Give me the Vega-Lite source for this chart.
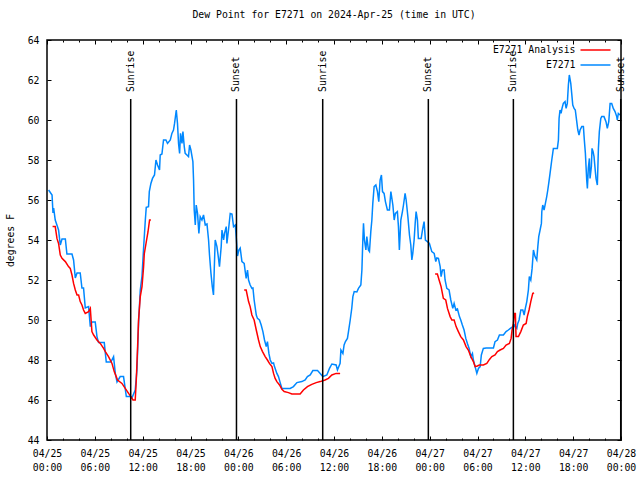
{
  "$schema": "https://vega.github.io/schema/vega-lite/v6.json",
  "width": 574,
  "height": 400,
  "autosize": {"type": "none"},
  "padding": {"left": 47, "top": 40, "right": 19, "bottom": 40},
  "background": "white",
  "title": {"text": "Dew Point for E7271 on 2024-Apr-25 (time in UTC)", "font": "DejaVu Sans Mono", "fontSize": 9.8, "fontWeight": "normal", "color": "black", "offset": 15, "anchor": "middle"},
  "config": {
    "view": {"stroke": "black", "strokeWidth": 1.5},
    "axis": {"labelFont": "DejaVu Sans Mono", "labelFontSize": 9.8, "labelColor": "black", "tickColor": "black", "tickWidth": 1, "domain": false, "grid": false, "titleFont": "DejaVu Sans Mono", "titleFontSize": 9.8, "titleFontWeight": "normal", "titleColor": "black"}
  },
  "datasets": {
    "sun": [
      {"event": "Sunrise", "time": "2024-04-25T10:30:00Z"},
      {"event": "Sunset", "time": "2024-04-25T23:46:00Z"},
      {"event": "Sunrise", "time": "2024-04-26T10:35:00Z"},
      {"event": "Sunset", "time": "2024-04-26T23:50:00Z"},
      {"event": "Sunrise", "time": "2024-04-27T10:30:00Z"},
      {"event": "Sunset", "time": "2024-04-27T23:58:00Z"}
    ],
    "obs": [
      {"series":"E7271","time":"2024-04-25T00:12:00Z","dewpoint":56.5},
      {"series":"E7271","time":"2024-04-25T00:38:00Z","dewpoint":56.25},
      {"series":"E7271","time":"2024-04-25T00:45:00Z","dewpoint":55.35},
      {"series":"E7271","time":"2024-04-25T00:50:00Z","dewpoint":55.6},
      {"series":"E7271","time":"2024-04-25T01:02:00Z","dewpoint":55.0},
      {"series":"E7271","time":"2024-04-25T01:27:00Z","dewpoint":54.5},
      {"series":"E7271","time":"2024-04-25T01:40:00Z","dewpoint":53.75},
      {"series":"E7271","time":"2024-04-25T01:53:00Z","dewpoint":54.05},
      {"series":"E7271","time":"2024-04-25T02:18:00Z","dewpoint":54.05},
      {"series":"E7271","time":"2024-04-25T02:30:00Z","dewpoint":53.3},
      {"series":"E7271","time":"2024-04-25T03:08:00Z","dewpoint":53.3},
      {"series":"E7271","time":"2024-04-25T03:20:00Z","dewpoint":53.0},
      {"series":"E7271","time":"2024-04-25T03:33:00Z","dewpoint":52.1},
      {"series":"E7271","time":"2024-04-25T03:46:00Z","dewpoint":52.35},
      {"series":"E7271","time":"2024-04-25T04:10:00Z","dewpoint":52.35},
      {"series":"E7271","time":"2024-04-25T04:23:00Z","dewpoint":51.6},
      {"series":"E7271","time":"2024-04-25T04:35:00Z","dewpoint":51.6},
      {"series":"E7271","time":"2024-04-25T04:48:00Z","dewpoint":50.6},
      {"series":"E7271","time":"2024-04-25T05:13:00Z","dewpoint":50.67},
      {"series":"E7271","time":"2024-04-25T05:26:00Z","dewpoint":49.67},
      {"series":"E7271","time":"2024-04-25T05:38:00Z","dewpoint":49.9},
      {"series":"E7271","time":"2024-04-25T06:03:00Z","dewpoint":49.9},
      {"series":"E7271","time":"2024-04-25T06:16:00Z","dewpoint":49.17},
      {"series":"E7271","time":"2024-04-25T06:28:00Z","dewpoint":48.87},
      {"series":"E7271","time":"2024-04-25T07:11:00Z","dewpoint":48.87},
      {"series":"E7271","time":"2024-04-25T07:26:00Z","dewpoint":47.9},
      {"series":"E7271","time":"2024-04-25T08:01:00Z","dewpoint":47.9},
      {"series":"E7271","time":"2024-04-25T08:21:00Z","dewpoint":48.17},
      {"series":"E7271","time":"2024-04-25T08:34:00Z","dewpoint":47.33},
      {"series":"E7271","time":"2024-04-25T08:47:00Z","dewpoint":46.9},
      {"series":"E7271","time":"2024-04-25T09:11:00Z","dewpoint":47.17},
      {"series":"E7271","time":"2024-04-25T09:36:00Z","dewpoint":47.17},
      {"series":"E7271","time":"2024-04-25T09:57:00Z","dewpoint":46.17},
      {"series":"E7271","time":"2024-04-25T10:27:00Z","dewpoint":46.17},
      {"series":"E7271","time":"2024-04-25T10:39:00Z","dewpoint":46.1},
      {"series":"E7271","time":"2024-04-25T11:04:00Z","dewpoint":46.5},
      {"series":"E7271","time":"2024-04-25T11:17:00Z","dewpoint":47.5},
      {"series":"E7271","time":"2024-04-25T11:29:00Z","dewpoint":49.83},
      {"series":"E7271","time":"2024-04-25T11:42:00Z","dewpoint":51.5},
      {"series":"E7271","time":"2024-04-25T11:55:00Z","dewpoint":52.2},
      {"series":"E7271","time":"2024-04-25T12:07:00Z","dewpoint":53.6},
      {"series":"E7271","time":"2024-04-25T12:20:00Z","dewpoint":55.0},
      {"series":"E7271","time":"2024-04-25T12:27:00Z","dewpoint":55.63},
      {"series":"E7271","time":"2024-04-25T12:44:00Z","dewpoint":55.67},
      {"series":"E7271","time":"2024-04-25T12:50:00Z","dewpoint":56.42},
      {"series":"E7271","time":"2024-04-25T13:02:00Z","dewpoint":56.83},
      {"series":"E7271","time":"2024-04-25T13:14:00Z","dewpoint":57.08},
      {"series":"E7271","time":"2024-04-25T13:29:00Z","dewpoint":57.25},
      {"series":"E7271","time":"2024-04-25T13:40:00Z","dewpoint":58.0},
      {"series":"E7271","time":"2024-04-25T13:52:00Z","dewpoint":57.75},
      {"series":"E7271","time":"2024-04-25T14:07:00Z","dewpoint":57.5},
      {"series":"E7271","time":"2024-04-25T14:12:00Z","dewpoint":58.25},
      {"series":"E7271","time":"2024-04-25T14:25:00Z","dewpoint":58.3},
      {"series":"E7271","time":"2024-04-25T14:37:00Z","dewpoint":59.0},
      {"series":"E7271","time":"2024-04-25T14:55:00Z","dewpoint":59.0},
      {"series":"E7271","time":"2024-04-25T15:07:00Z","dewpoint":58.83},
      {"series":"E7271","time":"2024-04-25T15:28:00Z","dewpoint":59.0},
      {"series":"E7271","time":"2024-04-25T15:40:00Z","dewpoint":59.33},
      {"series":"E7271","time":"2024-04-25T15:52:00Z","dewpoint":59.5},
      {"series":"E7271","time":"2024-04-25T16:00:00Z","dewpoint":59.83},
      {"series":"E7271","time":"2024-04-25T16:13:00Z","dewpoint":60.5},
      {"series":"E7271","time":"2024-04-25T16:22:00Z","dewpoint":59.83},
      {"series":"E7271","time":"2024-04-25T16:30:00Z","dewpoint":58.83},
      {"series":"E7271","time":"2024-04-25T16:38:00Z","dewpoint":58.33},
      {"series":"E7271","time":"2024-04-25T16:45:00Z","dewpoint":59.33},
      {"series":"E7271","time":"2024-04-25T16:56:00Z","dewpoint":58.83},
      {"series":"E7271","time":"2024-04-25T17:03:00Z","dewpoint":59.42},
      {"series":"E7271","time":"2024-04-25T17:13:00Z","dewpoint":58.67},
      {"series":"E7271","time":"2024-04-25T17:20:00Z","dewpoint":58.33},
      {"series":"E7271","time":"2024-04-25T17:33:00Z","dewpoint":58.25},
      {"series":"E7271","time":"2024-04-25T17:45:00Z","dewpoint":58.17},
      {"series":"E7271","time":"2024-04-25T17:53:00Z","dewpoint":58.75},
      {"series":"E7271","time":"2024-04-25T18:03:00Z","dewpoint":58.5},
      {"series":"E7271","time":"2024-04-25T18:18:00Z","dewpoint":57.92},
      {"series":"E7271","time":"2024-04-25T18:23:00Z","dewpoint":57.0},
      {"series":"E7271","time":"2024-04-25T18:28:00Z","dewpoint":55.5},
      {"series":"E7271","time":"2024-04-25T18:36:00Z","dewpoint":54.75},
      {"series":"E7271","time":"2024-04-25T18:43:00Z","dewpoint":55.75},
      {"series":"E7271","time":"2024-04-25T18:53:00Z","dewpoint":55.33},
      {"series":"E7271","time":"2024-04-25T19:03:00Z","dewpoint":54.33},
      {"series":"E7271","time":"2024-04-25T19:13:00Z","dewpoint":55.17},
      {"series":"E7271","time":"2024-04-25T19:26:00Z","dewpoint":55.0},
      {"series":"E7271","time":"2024-04-25T19:38:00Z","dewpoint":55.25},
      {"series":"E7271","time":"2024-04-25T19:51:00Z","dewpoint":54.75},
      {"series":"E7271","time":"2024-04-25T20:04:00Z","dewpoint":54.8},
      {"series":"E7271","time":"2024-04-25T20:16:00Z","dewpoint":54.0},
      {"series":"E7271","time":"2024-04-25T20:23:00Z","dewpoint":53.25},
      {"series":"E7271","time":"2024-04-25T20:34:00Z","dewpoint":52.33},
      {"series":"E7271","time":"2024-04-25T20:44:00Z","dewpoint":51.67},
      {"series":"E7271","time":"2024-04-25T20:53:00Z","dewpoint":51.25},
      {"series":"E7271","time":"2024-04-25T20:59:00Z","dewpoint":52.58},
      {"series":"E7271","time":"2024-04-25T21:06:00Z","dewpoint":54.0},
      {"series":"E7271","time":"2024-04-25T21:19:00Z","dewpoint":53.67},
      {"series":"E7271","time":"2024-04-25T21:29:00Z","dewpoint":53.17},
      {"series":"E7271","time":"2024-04-25T21:38:00Z","dewpoint":52.67},
      {"series":"E7271","time":"2024-04-25T21:51:00Z","dewpoint":53.67},
      {"series":"E7271","time":"2024-04-25T21:57:00Z","dewpoint":54.5},
      {"series":"E7271","time":"2024-04-25T22:09:00Z","dewpoint":54.0},
      {"series":"E7271","time":"2024-04-25T22:16:00Z","dewpoint":54.33},
      {"series":"E7271","time":"2024-04-25T22:29:00Z","dewpoint":54.67},
      {"series":"E7271","time":"2024-04-25T22:34:00Z","dewpoint":53.83},
      {"series":"E7271","time":"2024-04-25T22:46:00Z","dewpoint":54.5},
      {"series":"E7271","time":"2024-04-25T22:59:00Z","dewpoint":55.33},
      {"series":"E7271","time":"2024-04-25T23:12:00Z","dewpoint":55.3},
      {"series":"E7271","time":"2024-04-25T23:24:00Z","dewpoint":54.67},
      {"series":"E7271","time":"2024-04-25T23:37:00Z","dewpoint":54.75},
      {"series":"E7271","time":"2024-04-25T23:44:00Z","dewpoint":54.17},
      {"series":"E7271","time":"2024-04-25T23:54:00Z","dewpoint":53.2},
      {"series":"E7271","time":"2024-04-26T00:04:00Z","dewpoint":53.5},
      {"series":"E7271","time":"2024-04-26T00:14:00Z","dewpoint":53.6},
      {"series":"E7271","time":"2024-04-26T00:27:00Z","dewpoint":52.92},
      {"series":"E7271","time":"2024-04-26T00:44:00Z","dewpoint":52.83},
      {"series":"E7271","time":"2024-04-26T00:52:00Z","dewpoint":52.42},
      {"series":"E7271","time":"2024-04-26T00:59:00Z","dewpoint":52.08},
      {"series":"E7271","time":"2024-04-26T01:09:00Z","dewpoint":52.5},
      {"series":"E7271","time":"2024-04-26T01:17:00Z","dewpoint":52.0},
      {"series":"E7271","time":"2024-04-26T01:29:00Z","dewpoint":51.75},
      {"series":"E7271","time":"2024-04-26T01:42:00Z","dewpoint":51.58},
      {"series":"E7271","time":"2024-04-26T01:50:00Z","dewpoint":51.6},
      {"series":"E7271","time":"2024-04-26T01:59:00Z","dewpoint":51.0},
      {"series":"E7271","time":"2024-04-26T02:15:00Z","dewpoint":50.25},
      {"series":"E7271","time":"2024-04-26T02:24:00Z","dewpoint":50.08},
      {"series":"E7271","time":"2024-04-26T02:39:00Z","dewpoint":50.0},
      {"series":"E7271","time":"2024-04-26T02:52:00Z","dewpoint":49.75},
      {"series":"E7271","time":"2024-04-26T03:05:00Z","dewpoint":49.42},
      {"series":"E7271","time":"2024-04-26T03:17:00Z","dewpoint":49.0},
      {"series":"E7271","time":"2024-04-26T03:30:00Z","dewpoint":48.67},
      {"series":"E7271","time":"2024-04-26T03:39:00Z","dewpoint":48.92},
      {"series":"E7271","time":"2024-04-26T03:50:00Z","dewpoint":48.33},
      {"series":"E7271","time":"2024-04-26T04:00:00Z","dewpoint":48.0},
      {"series":"E7271","time":"2024-04-26T04:13:00Z","dewpoint":47.83},
      {"series":"E7271","time":"2024-04-26T04:25:00Z","dewpoint":47.85},
      {"series":"E7271","time":"2024-04-26T04:32:00Z","dewpoint":47.67},
      {"series":"E7271","time":"2024-04-26T04:50:00Z","dewpoint":47.33},
      {"series":"E7271","time":"2024-04-26T05:02:00Z","dewpoint":47.17},
      {"series":"E7271","time":"2024-04-26T05:15:00Z","dewpoint":46.87},
      {"series":"E7271","time":"2024-04-26T05:28:00Z","dewpoint":46.58},
      {"series":"E7271","time":"2024-04-26T05:53:00Z","dewpoint":46.58},
      {"series":"E7271","time":"2024-04-26T06:30:00Z","dewpoint":46.58},
      {"series":"E7271","time":"2024-04-26T06:55:00Z","dewpoint":46.67},
      {"series":"E7271","time":"2024-04-26T07:21:00Z","dewpoint":46.87},
      {"series":"E7271","time":"2024-04-26T07:58:00Z","dewpoint":46.92},
      {"series":"E7271","time":"2024-04-26T08:23:00Z","dewpoint":47.0},
      {"series":"E7271","time":"2024-04-26T08:40:00Z","dewpoint":47.17},
      {"series":"E7271","time":"2024-04-26T09:01:00Z","dewpoint":47.25},
      {"series":"E7271","time":"2024-04-26T09:21:00Z","dewpoint":47.47},
      {"series":"E7271","time":"2024-04-26T09:56:00Z","dewpoint":47.47},
      {"series":"E7271","time":"2024-04-26T10:16:00Z","dewpoint":47.33},
      {"series":"E7271","time":"2024-04-26T10:36:00Z","dewpoint":47.17},
      {"series":"E7271","time":"2024-04-26T11:06:00Z","dewpoint":47.25},
      {"series":"E7271","time":"2024-04-26T11:26:00Z","dewpoint":47.58},
      {"series":"E7271","time":"2024-04-26T11:44:00Z","dewpoint":47.8},
      {"series":"E7271","time":"2024-04-26T12:16:00Z","dewpoint":47.75},
      {"series":"E7271","time":"2024-04-26T12:26:00Z","dewpoint":47.5},
      {"series":"E7271","time":"2024-04-26T12:46:00Z","dewpoint":47.83},
      {"series":"E7271","time":"2024-04-26T12:52:00Z","dewpoint":48.5},
      {"series":"E7271","time":"2024-04-26T13:07:00Z","dewpoint":48.33},
      {"series":"E7271","time":"2024-04-26T13:16:00Z","dewpoint":48.75},
      {"series":"E7271","time":"2024-04-26T13:26:00Z","dewpoint":48.92},
      {"series":"E7271","time":"2024-04-26T13:41:00Z","dewpoint":49.08},
      {"series":"E7271","time":"2024-04-26T13:49:00Z","dewpoint":49.42},
      {"series":"E7271","time":"2024-04-26T14:02:00Z","dewpoint":50.0},
      {"series":"E7271","time":"2024-04-26T14:14:00Z","dewpoint":50.6},
      {"series":"E7271","time":"2024-04-26T14:22:00Z","dewpoint":51.17},
      {"series":"E7271","time":"2024-04-26T14:32:00Z","dewpoint":51.42},
      {"series":"E7271","time":"2024-04-26T14:52:00Z","dewpoint":51.4},
      {"series":"E7271","time":"2024-04-26T15:04:00Z","dewpoint":51.58},
      {"series":"E7271","time":"2024-04-26T15:22:00Z","dewpoint":51.75},
      {"series":"E7271","time":"2024-04-26T15:30:00Z","dewpoint":52.5},
      {"series":"E7271","time":"2024-04-26T15:37:00Z","dewpoint":54.0},
      {"series":"E7271","time":"2024-04-26T15:42:00Z","dewpoint":54.83},
      {"series":"E7271","time":"2024-04-26T15:49:00Z","dewpoint":54.0},
      {"series":"E7271","time":"2024-04-26T16:00:00Z","dewpoint":53.5},
      {"series":"E7271","time":"2024-04-26T16:07:00Z","dewpoint":54.17},
      {"series":"E7271","time":"2024-04-26T16:19:00Z","dewpoint":53.5},
      {"series":"E7271","time":"2024-04-26T16:27:00Z","dewpoint":53.42},
      {"series":"E7271","time":"2024-04-26T16:37:00Z","dewpoint":54.42},
      {"series":"E7271","time":"2024-04-26T16:45:00Z","dewpoint":55.0},
      {"series":"E7271","time":"2024-04-26T16:52:00Z","dewpoint":55.83},
      {"series":"E7271","time":"2024-04-26T17:02:00Z","dewpoint":56.67},
      {"series":"E7271","time":"2024-04-26T17:15:00Z","dewpoint":56.75},
      {"series":"E7271","time":"2024-04-26T17:27:00Z","dewpoint":56.42},
      {"series":"E7271","time":"2024-04-26T17:37:00Z","dewpoint":55.92},
      {"series":"E7271","time":"2024-04-26T17:47:00Z","dewpoint":57.0},
      {"series":"E7271","time":"2024-04-26T17:57:00Z","dewpoint":57.25},
      {"series":"E7271","time":"2024-04-26T18:05:00Z","dewpoint":56.42},
      {"series":"E7271","time":"2024-04-26T18:17:00Z","dewpoint":56.33},
      {"series":"E7271","time":"2024-04-26T18:27:00Z","dewpoint":55.92},
      {"series":"E7271","time":"2024-04-26T18:42:00Z","dewpoint":55.5},
      {"series":"E7271","time":"2024-04-26T18:57:00Z","dewpoint":55.5},
      {"series":"E7271","time":"2024-04-26T19:08:00Z","dewpoint":56.42},
      {"series":"E7271","time":"2024-04-26T19:23:00Z","dewpoint":55.75},
      {"series":"E7271","time":"2024-04-26T19:33:00Z","dewpoint":55.0},
      {"series":"E7271","time":"2024-04-26T19:42:00Z","dewpoint":55.33},
      {"series":"E7271","time":"2024-04-26T19:57:00Z","dewpoint":55.42},
      {"series":"E7271","time":"2024-04-26T20:05:00Z","dewpoint":54.67},
      {"series":"E7271","time":"2024-04-26T20:12:00Z","dewpoint":53.5},
      {"series":"E7271","time":"2024-04-26T20:23:00Z","dewpoint":55.0},
      {"series":"E7271","time":"2024-04-26T20:35:00Z","dewpoint":55.42},
      {"series":"E7271","time":"2024-04-26T20:43:00Z","dewpoint":55.75},
      {"series":"E7271","time":"2024-04-26T20:55:00Z","dewpoint":56.33},
      {"series":"E7271","time":"2024-04-26T21:03:00Z","dewpoint":56.0},
      {"series":"E7271","time":"2024-04-26T21:16:00Z","dewpoint":55.17},
      {"series":"E7271","time":"2024-04-26T21:28:00Z","dewpoint":54.25},
      {"series":"E7271","time":"2024-04-26T21:38:00Z","dewpoint":53.75},
      {"series":"E7271","time":"2024-04-26T21:46:00Z","dewpoint":53.0},
      {"series":"E7271","time":"2024-04-26T21:53:00Z","dewpoint":53.33},
      {"series":"E7271","time":"2024-04-26T22:03:00Z","dewpoint":54.0},
      {"series":"E7271","time":"2024-04-26T22:11:00Z","dewpoint":54.83},
      {"series":"E7271","time":"2024-04-26T22:18:00Z","dewpoint":55.42},
      {"series":"E7271","time":"2024-04-26T22:28:00Z","dewpoint":55.0},
      {"series":"E7271","time":"2024-04-26T22:35:00Z","dewpoint":54.08},
      {"series":"E7271","time":"2024-04-26T22:56:00Z","dewpoint":54.08},
      {"series":"E7271","time":"2024-04-26T23:08:00Z","dewpoint":54.58},
      {"series":"E7271","time":"2024-04-26T23:18:00Z","dewpoint":54.92},
      {"series":"E7271","time":"2024-04-26T23:28:00Z","dewpoint":54.0},
      {"series":"E7271","time":"2024-04-26T23:43:00Z","dewpoint":53.92},
      {"series":"E7271","time":"2024-04-26T23:58:00Z","dewpoint":53.83},
      {"series":"E7271","time":"2024-04-27T00:16:00Z","dewpoint":53.42},
      {"series":"E7271","time":"2024-04-27T00:34:00Z","dewpoint":53.33},
      {"series":"E7271","time":"2024-04-27T00:46:00Z","dewpoint":52.92},
      {"series":"E7271","time":"2024-04-27T00:54:00Z","dewpoint":53.1},
      {"series":"E7271","time":"2024-04-27T01:06:00Z","dewpoint":53.08},
      {"series":"E7271","time":"2024-04-27T01:19:00Z","dewpoint":52.67},
      {"series":"E7271","time":"2024-04-27T01:26:00Z","dewpoint":52.17},
      {"series":"E7271","time":"2024-04-27T01:36:00Z","dewpoint":52.5},
      {"series":"E7271","time":"2024-04-27T01:49:00Z","dewpoint":52.5},
      {"series":"E7271","time":"2024-04-27T01:56:00Z","dewpoint":52.0},
      {"series":"E7271","time":"2024-04-27T02:09:00Z","dewpoint":51.58},
      {"series":"E7271","time":"2024-04-27T02:26:00Z","dewpoint":51.5},
      {"series":"E7271","time":"2024-04-27T02:39:00Z","dewpoint":51.0},
      {"series":"E7271","time":"2024-04-27T02:54:00Z","dewpoint":50.58},
      {"series":"E7271","time":"2024-04-27T03:04:00Z","dewpoint":50.83},
      {"series":"E7271","time":"2024-04-27T03:17:00Z","dewpoint":50.5},
      {"series":"E7271","time":"2024-04-27T03:29:00Z","dewpoint":50.55},
      {"series":"E7271","time":"2024-04-27T03:44:00Z","dewpoint":50.17},
      {"series":"E7271","time":"2024-04-27T03:54:00Z","dewpoint":50.0},
      {"series":"E7271","time":"2024-04-27T04:06:00Z","dewpoint":49.75},
      {"series":"E7271","time":"2024-04-27T04:19:00Z","dewpoint":49.5},
      {"series":"E7271","time":"2024-04-27T04:32:00Z","dewpoint":49.08},
      {"series":"E7271","time":"2024-04-27T04:44:00Z","dewpoint":48.83},
      {"series":"E7271","time":"2024-04-27T04:57:00Z","dewpoint":48.58},
      {"series":"E7271","time":"2024-04-27T05:10:00Z","dewpoint":48.17},
      {"series":"E7271","time":"2024-04-27T05:22:00Z","dewpoint":48.33},
      {"series":"E7271","time":"2024-04-27T05:29:00Z","dewpoint":48.0},
      {"series":"E7271","time":"2024-04-27T05:42:00Z","dewpoint":47.67},
      {"series":"E7271","time":"2024-04-27T05:55:00Z","dewpoint":47.33},
      {"series":"E7271","time":"2024-04-27T06:07:00Z","dewpoint":47.58},
      {"series":"E7271","time":"2024-04-27T06:20:00Z","dewpoint":47.67},
      {"series":"E7271","time":"2024-04-27T06:29:00Z","dewpoint":48.25},
      {"series":"E7271","time":"2024-04-27T06:44:00Z","dewpoint":48.58},
      {"series":"E7271","time":"2024-04-27T07:05:00Z","dewpoint":48.6},
      {"series":"E7271","time":"2024-04-27T07:35:00Z","dewpoint":48.6},
      {"series":"E7271","time":"2024-04-27T08:00:00Z","dewpoint":48.6},
      {"series":"E7271","time":"2024-04-27T08:12:00Z","dewpoint":48.92},
      {"series":"E7271","time":"2024-04-27T08:30:00Z","dewpoint":49.0},
      {"series":"E7271","time":"2024-04-27T08:45:00Z","dewpoint":49.25},
      {"series":"E7271","time":"2024-04-27T09:15:00Z","dewpoint":49.25},
      {"series":"E7271","time":"2024-04-27T09:35:00Z","dewpoint":49.42},
      {"series":"E7271","time":"2024-04-27T09:52:00Z","dewpoint":49.5},
      {"series":"E7271","time":"2024-04-27T10:18:00Z","dewpoint":49.63},
      {"series":"E7271","time":"2024-04-27T10:30:00Z","dewpoint":49.6},
      {"series":"E7271","time":"2024-04-27T10:38:00Z","dewpoint":49.75},
      {"series":"E7271","time":"2024-04-27T10:56:00Z","dewpoint":49.58},
      {"series":"E7271","time":"2024-04-27T11:03:00Z","dewpoint":49.83},
      {"series":"E7271","time":"2024-04-27T11:13:00Z","dewpoint":50.0},
      {"series":"E7271","time":"2024-04-27T11:26:00Z","dewpoint":50.5},
      {"series":"E7271","time":"2024-04-27T11:41:00Z","dewpoint":50.5},
      {"series":"E7271","time":"2024-04-27T11:51:00Z","dewpoint":50.25},
      {"series":"E7271","time":"2024-04-27T12:00:00Z","dewpoint":50.58},
      {"series":"E7271","time":"2024-04-27T12:11:00Z","dewpoint":50.92},
      {"series":"E7271","time":"2024-04-27T12:23:00Z","dewpoint":51.5},
      {"series":"E7271","time":"2024-04-27T12:30:00Z","dewpoint":52.17},
      {"series":"E7271","time":"2024-04-27T12:41:00Z","dewpoint":52.0},
      {"series":"E7271","time":"2024-04-27T12:51:00Z","dewpoint":52.58},
      {"series":"E7271","time":"2024-04-27T13:01:00Z","dewpoint":53.5},
      {"series":"E7271","time":"2024-04-27T13:13:00Z","dewpoint":53.17},
      {"series":"E7271","time":"2024-04-27T13:26:00Z","dewpoint":53.0},
      {"series":"E7271","time":"2024-04-27T13:34:00Z","dewpoint":53.67},
      {"series":"E7271","time":"2024-04-27T13:41:00Z","dewpoint":54.17},
      {"series":"E7271","time":"2024-04-27T13:51:00Z","dewpoint":54.5},
      {"series":"E7271","time":"2024-04-27T14:01:00Z","dewpoint":54.83},
      {"series":"E7271","time":"2024-04-27T14:04:00Z","dewpoint":55.42},
      {"series":"E7271","time":"2024-04-27T14:11:00Z","dewpoint":55.75},
      {"series":"E7271","time":"2024-04-27T14:21:00Z","dewpoint":55.5},
      {"series":"E7271","time":"2024-04-27T14:31:00Z","dewpoint":55.83},
      {"series":"E7271","time":"2024-04-27T14:41:00Z","dewpoint":56.17},
      {"series":"E7271","time":"2024-04-27T14:49:00Z","dewpoint":56.5},
      {"series":"E7271","time":"2024-04-27T14:56:00Z","dewpoint":56.83},
      {"series":"E7271","time":"2024-04-27T15:06:00Z","dewpoint":57.33},
      {"series":"E7271","time":"2024-04-27T15:19:00Z","dewpoint":58.0},
      {"series":"E7271","time":"2024-04-27T15:26:00Z","dewpoint":58.33},
      {"series":"E7271","time":"2024-04-27T15:31:00Z","dewpoint":58.58},
      {"series":"E7271","time":"2024-04-27T16:01:00Z","dewpoint":58.58},
      {"series":"E7271","time":"2024-04-27T16:09:00Z","dewpoint":59.0},
      {"series":"E7271","time":"2024-04-27T16:14:00Z","dewpoint":60.08},
      {"series":"E7271","time":"2024-04-27T16:21:00Z","dewpoint":60.5},
      {"series":"E7271","time":"2024-04-27T16:29:00Z","dewpoint":60.33},
      {"series":"E7271","time":"2024-04-27T16:36:00Z","dewpoint":60.58},
      {"series":"E7271","time":"2024-04-27T16:46:00Z","dewpoint":60.83},
      {"series":"E7271","time":"2024-04-27T16:59:00Z","dewpoint":60.92},
      {"series":"E7271","time":"2024-04-27T17:07:00Z","dewpoint":60.58},
      {"series":"E7271","time":"2024-04-27T17:16:00Z","dewpoint":60.83},
      {"series":"E7271","time":"2024-04-27T17:24:00Z","dewpoint":61.75},
      {"series":"E7271","time":"2024-04-27T17:31:00Z","dewpoint":62.25},
      {"series":"E7271","time":"2024-04-27T17:42:00Z","dewpoint":61.83},
      {"series":"E7271","time":"2024-04-27T17:49:00Z","dewpoint":61.33},
      {"series":"E7271","time":"2024-04-27T17:57:00Z","dewpoint":60.75},
      {"series":"E7271","time":"2024-04-27T18:07:00Z","dewpoint":60.58},
      {"series":"E7271","time":"2024-04-27T18:16:00Z","dewpoint":60.5},
      {"series":"E7271","time":"2024-04-27T18:27:00Z","dewpoint":59.92},
      {"series":"E7271","time":"2024-04-27T18:35:00Z","dewpoint":59.5},
      {"series":"E7271","time":"2024-04-27T18:44:00Z","dewpoint":59.25},
      {"series":"E7271","time":"2024-04-27T18:52:00Z","dewpoint":59.5},
      {"series":"E7271","time":"2024-04-27T19:05:00Z","dewpoint":59.67},
      {"series":"E7271","time":"2024-04-27T19:17:00Z","dewpoint":59.67},
      {"series":"E7271","time":"2024-04-27T19:24:00Z","dewpoint":59.0},
      {"series":"E7271","time":"2024-04-27T19:32:00Z","dewpoint":58.33},
      {"series":"E7271","time":"2024-04-27T19:37:00Z","dewpoint":57.67},
      {"series":"E7271","time":"2024-04-27T19:42:00Z","dewpoint":57.0},
      {"series":"E7271","time":"2024-04-27T19:47:00Z","dewpoint":56.58},
      {"series":"E7271","time":"2024-04-27T19:54:00Z","dewpoint":57.58},
      {"series":"E7271","time":"2024-04-27T20:02:00Z","dewpoint":58.08},
      {"series":"E7271","time":"2024-04-27T20:07:00Z","dewpoint":57.08},
      {"series":"E7271","time":"2024-04-27T20:17:00Z","dewpoint":57.67},
      {"series":"E7271","time":"2024-04-27T20:22:00Z","dewpoint":58.58},
      {"series":"E7271","time":"2024-04-27T20:30:00Z","dewpoint":58.42},
      {"series":"E7271","time":"2024-04-27T20:37:00Z","dewpoint":58.17},
      {"series":"E7271","time":"2024-04-27T20:47:00Z","dewpoint":57.42},
      {"series":"E7271","time":"2024-04-27T20:52:00Z","dewpoint":57.08},
      {"series":"E7271","time":"2024-04-27T21:02:00Z","dewpoint":56.75},
      {"series":"E7271","time":"2024-04-27T21:10:00Z","dewpoint":58.58},
      {"series":"E7271","time":"2024-04-27T21:17:00Z","dewpoint":59.42},
      {"series":"E7271","time":"2024-04-27T21:28:00Z","dewpoint":60.08},
      {"series":"E7271","time":"2024-04-27T21:35:00Z","dewpoint":60.17},
      {"series":"E7271","time":"2024-04-27T21:52:00Z","dewpoint":60.17},
      {"series":"E7271","time":"2024-04-27T22:07:00Z","dewpoint":59.92},
      {"series":"E7271","time":"2024-04-27T22:17:00Z","dewpoint":59.58},
      {"series":"E7271","time":"2024-04-27T22:28:00Z","dewpoint":59.92},
      {"series":"E7271","time":"2024-04-27T22:38:00Z","dewpoint":60.83},
      {"series":"E7271","time":"2024-04-27T22:50:00Z","dewpoint":60.83},
      {"series":"E7271","time":"2024-04-27T23:02:00Z","dewpoint":60.58},
      {"series":"E7271","time":"2024-04-27T23:15:00Z","dewpoint":60.42},
      {"series":"E7271","time":"2024-04-27T23:28:00Z","dewpoint":60.17},
      {"series":"E7271","time":"2024-04-27T23:32:00Z","dewpoint":60.0},
      {"series":"E7271","time":"2024-04-27T23:40:00Z","dewpoint":60.33},
      {"series":"E7271","time":"2024-04-27T23:53:00Z","dewpoint":60.25},
      {"series":"E7271 Analysis","run":1,"time":"2024-04-25T00:42:00Z","dewpoint":54.67},
      {"series":"E7271 Analysis","run":1,"time":"2024-04-25T01:02:00Z","dewpoint":54.67},
      {"series":"E7271 Analysis","run":1,"time":"2024-04-25T01:15:00Z","dewpoint":54.08},
      {"series":"E7271 Analysis","run":1,"time":"2024-04-25T01:27:00Z","dewpoint":53.83},
      {"series":"E7271 Analysis","run":1,"time":"2024-04-25T01:40:00Z","dewpoint":53.25},
      {"series":"E7271 Analysis","run":1,"time":"2024-04-25T01:53:00Z","dewpoint":53.08},
      {"series":"E7271 Analysis","run":1,"time":"2024-04-25T02:18:00Z","dewpoint":52.92},
      {"series":"E7271 Analysis","run":1,"time":"2024-04-25T02:42:00Z","dewpoint":52.67},
      {"series":"E7271 Analysis","run":1,"time":"2024-04-25T02:55:00Z","dewpoint":52.58},
      {"series":"E7271 Analysis","run":1,"time":"2024-04-25T03:08:00Z","dewpoint":52.25},
      {"series":"E7271 Analysis","run":1,"time":"2024-04-25T03:20:00Z","dewpoint":51.83},
      {"series":"E7271 Analysis","run":1,"time":"2024-04-25T03:33:00Z","dewpoint":51.5},
      {"series":"E7271 Analysis","run":1,"time":"2024-04-25T03:46:00Z","dewpoint":51.25},
      {"series":"E7271 Analysis","run":1,"time":"2024-04-25T03:58:00Z","dewpoint":51.25},
      {"series":"E7271 Analysis","run":1,"time":"2024-04-25T04:10:00Z","dewpoint":50.92},
      {"series":"E7271 Analysis","run":1,"time":"2024-04-25T04:23:00Z","dewpoint":50.75},
      {"series":"E7271 Analysis","run":1,"time":"2024-04-25T04:35:00Z","dewpoint":50.5},
      {"series":"E7271 Analysis","run":1,"time":"2024-04-25T04:48:00Z","dewpoint":50.33},
      {"series":"E7271 Analysis","run":1,"time":"2024-04-25T05:13:00Z","dewpoint":50.42},
      {"series":"E7271 Analysis","run":1,"time":"2024-04-25T05:26:00Z","dewpoint":50.58},
      {"series":"E7271 Analysis","run":1,"time":"2024-04-25T05:38:00Z","dewpoint":49.42},
      {"series":"E7271 Analysis","run":1,"time":"2024-04-25T05:51:00Z","dewpoint":49.25},
      {"series":"E7271 Analysis","run":1,"time":"2024-04-25T06:16:00Z","dewpoint":49.0},
      {"series":"E7271 Analysis","run":1,"time":"2024-04-25T06:41:00Z","dewpoint":48.83},
      {"series":"E7271 Analysis","run":1,"time":"2024-04-25T07:06:00Z","dewpoint":48.58},
      {"series":"E7271 Analysis","run":1,"time":"2024-04-25T07:19:00Z","dewpoint":48.42},
      {"series":"E7271 Analysis","run":1,"time":"2024-04-25T07:43:00Z","dewpoint":48.17},
      {"series":"E7271 Analysis","run":1,"time":"2024-04-25T08:09:00Z","dewpoint":47.83},
      {"series":"E7271 Analysis","run":1,"time":"2024-04-25T08:26:00Z","dewpoint":47.42},
      {"series":"E7271 Analysis","run":1,"time":"2024-04-25T08:41:00Z","dewpoint":47.17},
      {"series":"E7271 Analysis","run":1,"time":"2024-04-25T08:51:00Z","dewpoint":47.0},
      {"series":"E7271 Analysis","run":1,"time":"2024-04-25T09:24:00Z","dewpoint":46.83},
      {"series":"E7271 Analysis","run":1,"time":"2024-04-25T09:49:00Z","dewpoint":46.58},
      {"series":"E7271 Analysis","run":1,"time":"2024-04-25T10:14:00Z","dewpoint":46.33},
      {"series":"E7271 Analysis","run":1,"time":"2024-04-25T10:32:00Z","dewpoint":46.17},
      {"series":"E7271 Analysis","run":1,"time":"2024-04-25T10:47:00Z","dewpoint":46.0},
      {"series":"E7271 Analysis","run":1,"time":"2024-04-25T11:04:00Z","dewpoint":46.0},
      {"series":"E7271 Analysis","run":1,"time":"2024-04-25T11:12:00Z","dewpoint":47.0},
      {"series":"E7271 Analysis","run":1,"time":"2024-04-25T11:22:00Z","dewpoint":48.67},
      {"series":"E7271 Analysis","run":1,"time":"2024-04-25T11:29:00Z","dewpoint":50.0},
      {"series":"E7271 Analysis","run":1,"time":"2024-04-25T11:42:00Z","dewpoint":51.17},
      {"series":"E7271 Analysis","run":1,"time":"2024-04-25T11:55:00Z","dewpoint":51.67},
      {"series":"E7271 Analysis","run":1,"time":"2024-04-25T12:07:00Z","dewpoint":52.67},
      {"series":"E7271 Analysis","run":1,"time":"2024-04-25T12:12:00Z","dewpoint":53.3},
      {"series":"E7271 Analysis","run":1,"time":"2024-04-25T12:27:00Z","dewpoint":53.9},
      {"series":"E7271 Analysis","run":1,"time":"2024-04-25T12:40:00Z","dewpoint":54.4},
      {"series":"E7271 Analysis","run":1,"time":"2024-04-25T12:52:00Z","dewpoint":55.0},
      {"series":"E7271 Analysis","run":1,"time":"2024-04-25T13:02:00Z","dewpoint":55.0},
      {"series":"E7271 Analysis","run":2,"time":"2024-04-26T00:44:00Z","dewpoint":51.5},
      {"series":"E7271 Analysis","run":2,"time":"2024-04-26T00:59:00Z","dewpoint":51.5},
      {"series":"E7271 Analysis","run":2,"time":"2024-04-26T01:17:00Z","dewpoint":50.92},
      {"series":"E7271 Analysis","run":2,"time":"2024-04-26T01:29:00Z","dewpoint":50.67},
      {"series":"E7271 Analysis","run":2,"time":"2024-04-26T01:42:00Z","dewpoint":50.25},
      {"series":"E7271 Analysis","run":2,"time":"2024-04-26T01:59:00Z","dewpoint":50.0},
      {"series":"E7271 Analysis","run":2,"time":"2024-04-26T02:15:00Z","dewpoint":49.5},
      {"series":"E7271 Analysis","run":2,"time":"2024-04-26T02:32:00Z","dewpoint":49.0},
      {"series":"E7271 Analysis","run":2,"time":"2024-04-26T02:45:00Z","dewpoint":48.67},
      {"series":"E7271 Analysis","run":2,"time":"2024-04-26T03:02:00Z","dewpoint":48.42},
      {"series":"E7271 Analysis","run":2,"time":"2024-04-26T03:22:00Z","dewpoint":48.17},
      {"series":"E7271 Analysis","run":2,"time":"2024-04-26T03:39:00Z","dewpoint":48.0},
      {"series":"E7271 Analysis","run":2,"time":"2024-04-26T03:54:00Z","dewpoint":47.83},
      {"series":"E7271 Analysis","run":2,"time":"2024-04-26T04:13:00Z","dewpoint":47.67},
      {"series":"E7271 Analysis","run":2,"time":"2024-04-26T04:25:00Z","dewpoint":47.33},
      {"series":"E7271 Analysis","run":2,"time":"2024-04-26T04:37:00Z","dewpoint":47.08},
      {"series":"E7271 Analysis","run":2,"time":"2024-04-26T04:50:00Z","dewpoint":46.92},
      {"series":"E7271 Analysis","run":2,"time":"2024-04-26T05:10:00Z","dewpoint":46.75},
      {"series":"E7271 Analysis","run":2,"time":"2024-04-26T05:28:00Z","dewpoint":46.53},
      {"series":"E7271 Analysis","run":2,"time":"2024-04-26T05:45:00Z","dewpoint":46.42},
      {"series":"E7271 Analysis","run":2,"time":"2024-04-26T06:17:00Z","dewpoint":46.37},
      {"series":"E7271 Analysis","run":2,"time":"2024-04-26T06:43:00Z","dewpoint":46.3},
      {"series":"E7271 Analysis","run":2,"time":"2024-04-26T07:45:00Z","dewpoint":46.3},
      {"series":"E7271 Analysis","run":2,"time":"2024-04-26T08:10:00Z","dewpoint":46.5},
      {"series":"E7271 Analysis","run":2,"time":"2024-04-26T08:40:00Z","dewpoint":46.67},
      {"series":"E7271 Analysis","run":2,"time":"2024-04-26T09:13:00Z","dewpoint":46.78},
      {"series":"E7271 Analysis","run":2,"time":"2024-04-26T09:46:00Z","dewpoint":46.87},
      {"series":"E7271 Analysis","run":2,"time":"2024-04-26T10:16:00Z","dewpoint":46.92},
      {"series":"E7271 Analysis","run":2,"time":"2024-04-26T10:53:00Z","dewpoint":47.0},
      {"series":"E7271 Analysis","run":2,"time":"2024-04-26T11:18:00Z","dewpoint":47.08},
      {"series":"E7271 Analysis","run":2,"time":"2024-04-26T11:44:00Z","dewpoint":47.25},
      {"series":"E7271 Analysis","run":2,"time":"2024-04-26T12:16:00Z","dewpoint":47.33},
      {"series":"E7271 Analysis","run":2,"time":"2024-04-26T12:46:00Z","dewpoint":47.33},
      {"series":"E7271 Analysis","run":3,"time":"2024-04-27T00:41:00Z","dewpoint":52.3},
      {"series":"E7271 Analysis","run":3,"time":"2024-04-27T00:58:00Z","dewpoint":52.3},
      {"series":"E7271 Analysis","run":3,"time":"2024-04-27T01:11:00Z","dewpoint":52.0},
      {"series":"E7271 Analysis","run":3,"time":"2024-04-27T01:26:00Z","dewpoint":51.67},
      {"series":"E7271 Analysis","run":3,"time":"2024-04-27T01:43:00Z","dewpoint":51.08},
      {"series":"E7271 Analysis","run":3,"time":"2024-04-27T02:01:00Z","dewpoint":51.0},
      {"series":"E7271 Analysis","run":3,"time":"2024-04-27T02:14:00Z","dewpoint":50.58},
      {"series":"E7271 Analysis","run":3,"time":"2024-04-27T02:34:00Z","dewpoint":50.17},
      {"series":"E7271 Analysis","run":3,"time":"2024-04-27T02:47:00Z","dewpoint":50.0},
      {"series":"E7271 Analysis","run":3,"time":"2024-04-27T03:04:00Z","dewpoint":50.0},
      {"series":"E7271 Analysis","run":3,"time":"2024-04-27T03:19:00Z","dewpoint":49.67},
      {"series":"E7271 Analysis","run":3,"time":"2024-04-27T03:36:00Z","dewpoint":49.42},
      {"series":"E7271 Analysis","run":3,"time":"2024-04-27T03:54:00Z","dewpoint":49.17},
      {"series":"E7271 Analysis","run":3,"time":"2024-04-27T04:14:00Z","dewpoint":49.0},
      {"series":"E7271 Analysis","run":3,"time":"2024-04-27T04:34:00Z","dewpoint":48.67},
      {"series":"E7271 Analysis","run":3,"time":"2024-04-27T04:51:00Z","dewpoint":48.5},
      {"series":"E7271 Analysis","run":3,"time":"2024-04-27T05:10:00Z","dewpoint":48.17},
      {"series":"E7271 Analysis","run":3,"time":"2024-04-27T05:29:00Z","dewpoint":47.92},
      {"series":"E7271 Analysis","run":3,"time":"2024-04-27T05:42:00Z","dewpoint":47.67},
      {"series":"E7271 Analysis","run":3,"time":"2024-04-27T05:59:00Z","dewpoint":47.7},
      {"series":"E7271 Analysis","run":3,"time":"2024-04-27T06:14:00Z","dewpoint":47.75},
      {"series":"E7271 Analysis","run":3,"time":"2024-04-27T06:44:00Z","dewpoint":47.75},
      {"series":"E7271 Analysis","run":3,"time":"2024-04-27T07:10:00Z","dewpoint":47.83},
      {"series":"E7271 Analysis","run":3,"time":"2024-04-27T07:30:00Z","dewpoint":48.03},
      {"series":"E7271 Analysis","run":3,"time":"2024-04-27T07:48:00Z","dewpoint":48.17},
      {"series":"E7271 Analysis","run":3,"time":"2024-04-27T08:12:00Z","dewpoint":48.25},
      {"series":"E7271 Analysis","run":3,"time":"2024-04-27T08:30:00Z","dewpoint":48.42},
      {"series":"E7271 Analysis","run":3,"time":"2024-04-27T08:50:00Z","dewpoint":48.5},
      {"series":"E7271 Analysis","run":3,"time":"2024-04-27T09:15:00Z","dewpoint":48.58},
      {"series":"E7271 Analysis","run":3,"time":"2024-04-27T09:35:00Z","dewpoint":48.75},
      {"series":"E7271 Analysis","run":3,"time":"2024-04-27T10:00:00Z","dewpoint":48.83},
      {"series":"E7271 Analysis","run":3,"time":"2024-04-27T10:13:00Z","dewpoint":49.08},
      {"series":"E7271 Analysis","run":3,"time":"2024-04-27T10:20:00Z","dewpoint":49.5},
      {"series":"E7271 Analysis","run":3,"time":"2024-04-27T10:30:00Z","dewpoint":49.83},
      {"series":"E7271 Analysis","run":3,"time":"2024-04-27T10:38:00Z","dewpoint":50.33},
      {"series":"E7271 Analysis","run":3,"time":"2024-04-27T10:45:00Z","dewpoint":50.33},
      {"series":"E7271 Analysis","run":3,"time":"2024-04-27T10:50:00Z","dewpoint":49.17},
      {"series":"E7271 Analysis","run":3,"time":"2024-04-27T11:08:00Z","dewpoint":49.17},
      {"series":"E7271 Analysis","run":3,"time":"2024-04-27T11:26:00Z","dewpoint":49.42},
      {"series":"E7271 Analysis","run":3,"time":"2024-04-27T11:45:00Z","dewpoint":49.75},
      {"series":"E7271 Analysis","run":3,"time":"2024-04-27T12:06:00Z","dewpoint":49.83},
      {"series":"E7271 Analysis","run":3,"time":"2024-04-27T12:15:00Z","dewpoint":50.17},
      {"series":"E7271 Analysis","run":3,"time":"2024-04-27T12:28:00Z","dewpoint":50.5},
      {"series":"E7271 Analysis","run":3,"time":"2024-04-27T12:41:00Z","dewpoint":50.92},
      {"series":"E7271 Analysis","run":3,"time":"2024-04-27T12:56:00Z","dewpoint":51.33},
      {"series":"E7271 Analysis","run":3,"time":"2024-04-27T13:06:00Z","dewpoint":51.35}
    ]
  },
  "layer": [
    {
      "data": {"name": "obs"},
      "mark": {"type": "line", "strokeWidth": 1.5},
      "encoding": {
        "x": {"field": "time", "type": "temporal",
          "scale": {"type": "utc", "nice": false, "domain": [1714003200000, 1714262400000]},
          "axis": {"orient": "bottom", "values": [1714003200000, 1714010400000, 1714017600000, 1714024800000, 1714032000000, 1714039200000, 1714046400000, 1714053600000, 1714060800000, 1714068000000, 1714075200000, 1714082400000, 1714089600000, 1714096800000, 1714104000000, 1714111200000, 1714118400000, 1714125600000, 1714132800000, 1714140000000, 1714147200000, 1714154400000, 1714161600000, 1714168800000, 1714176000000, 1714183200000, 1714190400000, 1714197600000, 1714204800000, 1714212000000, 1714219200000, 1714226400000, 1714233600000, 1714240800000, 1714248000000, 1714255200000, 1714262400000],
            "tickSize": {"condition": {"test": "utchours(datum.value) % 6 === 0", "value": -4}, "value": -2},
            "labelPadding": 12, "labelExpr": "utchours(datum.value) % 6 === 0 ? [utcFormat(datum.value, '%m/%d'), utcFormat(datum.value, '%H:%M')] : ''", "labelLineHeight": 14, "labelFlush": false, "labelOverlap": false, "labelBound": false, "title": null}},
        "y": {"field": "dewpoint", "type": "quantitative",
          "scale": {"domain": [44, 64], "nice": false, "zero": false},
          "axis": {"orient": "left", "values": [44, 46, 48, 50, 52, 54, 56, 58, 60, 62, 64], "tickSize": -4, "labelPadding": 12, "title": "degrees F", "titlePadding": 12}},
        "color": {"field": "series", "type": "nominal",
          "scale": {"domain": ["E7271 Analysis", "E7271"], "range": ["#ff0000", "#0088ff"]},
          "legend": {"title": null, "orient": "none", "legendX": 542.5, "legendY": 4, "symbolType": "M-3,0H3", "symbolSize": 100, "symbolStrokeWidth": 1.5, "labelAlign": "right", "labelOffset": -26, "labelFont": "DejaVu Sans Mono", "labelFontSize": 9.8, "labelColor": "black", "rowPadding": 4, "padding": 0}},
        "detail": {"field": "run"}
      }
    },
    {
      "data": {"name": "sun"},
      "mark": {"type": "rule", "color": "black", "strokeWidth": 1.5},
      "encoding": {
        "x": {"field": "time", "type": "temporal",
          "axis": {"orient": "top", "values": [1714003200000, 1714010400000, 1714017600000, 1714024800000, 1714032000000, 1714039200000, 1714046400000, 1714053600000, 1714060800000, 1714068000000, 1714075200000, 1714082400000, 1714089600000, 1714096800000, 1714104000000, 1714111200000, 1714118400000, 1714125600000, 1714132800000, 1714140000000, 1714147200000, 1714154400000, 1714161600000, 1714168800000, 1714176000000, 1714183200000, 1714190400000, 1714197600000, 1714204800000, 1714212000000, 1714219200000, 1714226400000, 1714233600000, 1714240800000, 1714248000000, 1714255200000, 1714262400000],
            "tickSize": {"condition": {"test": "utchours(datum.value) % 6 === 0", "value": -4}, "value": -2},
            "labels": false, "title": null}},
        "y": {"datum": 44, "axis": {"orient": "right", "values": [44, 46, 48, 50, 52, 54, 56, 58, 60, 62, 64], "tickSize": -4, "labels": false, "title": null}},
        "y2": {"datum": 61.05}
      }
    },
    {
      "data": {"name": "sun"},
      "mark": {"type": "text", "angle": 270, "align": "left", "baseline": "middle", "dx": 7, "font": "DejaVu Sans Mono", "fontSize": 9.8, "color": "black"},
      "encoding": {
        "x": {"field": "time", "type": "temporal", "axis": null},
        "y": {"datum": 61.05, "axis": null},
        "text": {"field": "event"}
      }
    }
  ],
  "resolve": {"axis": {"x": "independent", "y": "independent"}}
}
